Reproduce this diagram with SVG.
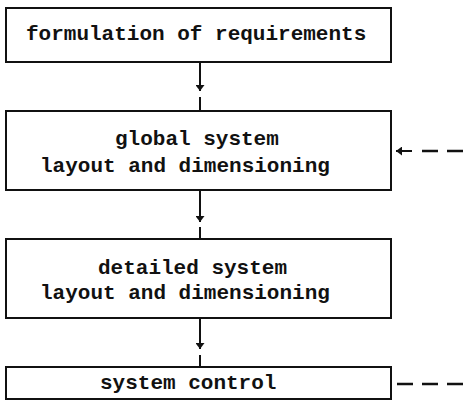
<svg xmlns="http://www.w3.org/2000/svg" width="464" height="419" viewBox="0 0 464 419">
  <style>
    .box { fill: #fff; stroke: #111; stroke-width: 2; }
    .lbl { font-family: "Liberation Mono", "Courier New", monospace; font-size: 21px; font-weight: bold; fill: #111; }
    .flow { stroke: #111; stroke-width: 2; fill: none; }
    .dash { stroke: #111; stroke-width: 2.5; fill: none; stroke-dasharray: 16 9; }
  </style>
  <defs>
    <marker id="head" viewBox="0 0 6 9" refX="6" refY="4.5" markerWidth="6" markerHeight="9" markerUnits="userSpaceOnUse" orient="auto-start-reverse">
      <path d="M0,0 L6,4.5 L0,9 Z" fill="#111"/>
    </marker>
  </defs>
  <rect width="464" height="419" fill="#fff"/>

  <g id="n-requirements">
    <rect class="box" x="6" y="8" width="385" height="54"/>
    <text class="lbl" x="26" y="40">formulation of requirements</text>
  </g>

  <g id="n-global">
    <rect class="box" x="6" y="111" width="385" height="79"/>
    <text class="lbl" x="115" y="145">global system</text>
    <text class="lbl" x="40" y="172">layout and dimensioning</text>
  </g>

  <g id="n-detailed">
    <rect class="box" x="6" y="239" width="385" height="79"/>
    <text class="lbl" x="98" y="274">detailed system</text>
    <text class="lbl" x="40" y="299">layout and dimensioning</text>
  </g>

  <g id="n-control">
    <rect class="box" x="6" y="367" width="385" height="32"/>
    <text class="lbl" x="100" y="389">system control</text>
  </g>

  <g id="connectors">
    <line class="flow" x1="200" y1="62" x2="200" y2="91" marker-end="url(#head)"/>
    <line class="flow" x1="200" y1="97" x2="200" y2="111"/>
    <line class="flow" x1="200" y1="190" x2="200" y2="222" marker-end="url(#head)"/>
    <line class="flow" x1="200" y1="227" x2="200" y2="239"/>
    <line class="flow" x1="200" y1="318" x2="200" y2="349" marker-end="url(#head)"/>
    <line class="flow" x1="200" y1="355" x2="200" y2="367"/>
    <!-- feedback from the right, into the global layout step -->
    <line class="flow" x1="396" y1="151" x2="412" y2="151" marker-start="url(#head)"/>
    <line class="dash" x1="422" y1="151" x2="464" y2="151"/>
    <!-- feedback leaving system control -->
    <line class="dash" x1="397" y1="384" x2="464" y2="384"/>
  </g>
</svg>
